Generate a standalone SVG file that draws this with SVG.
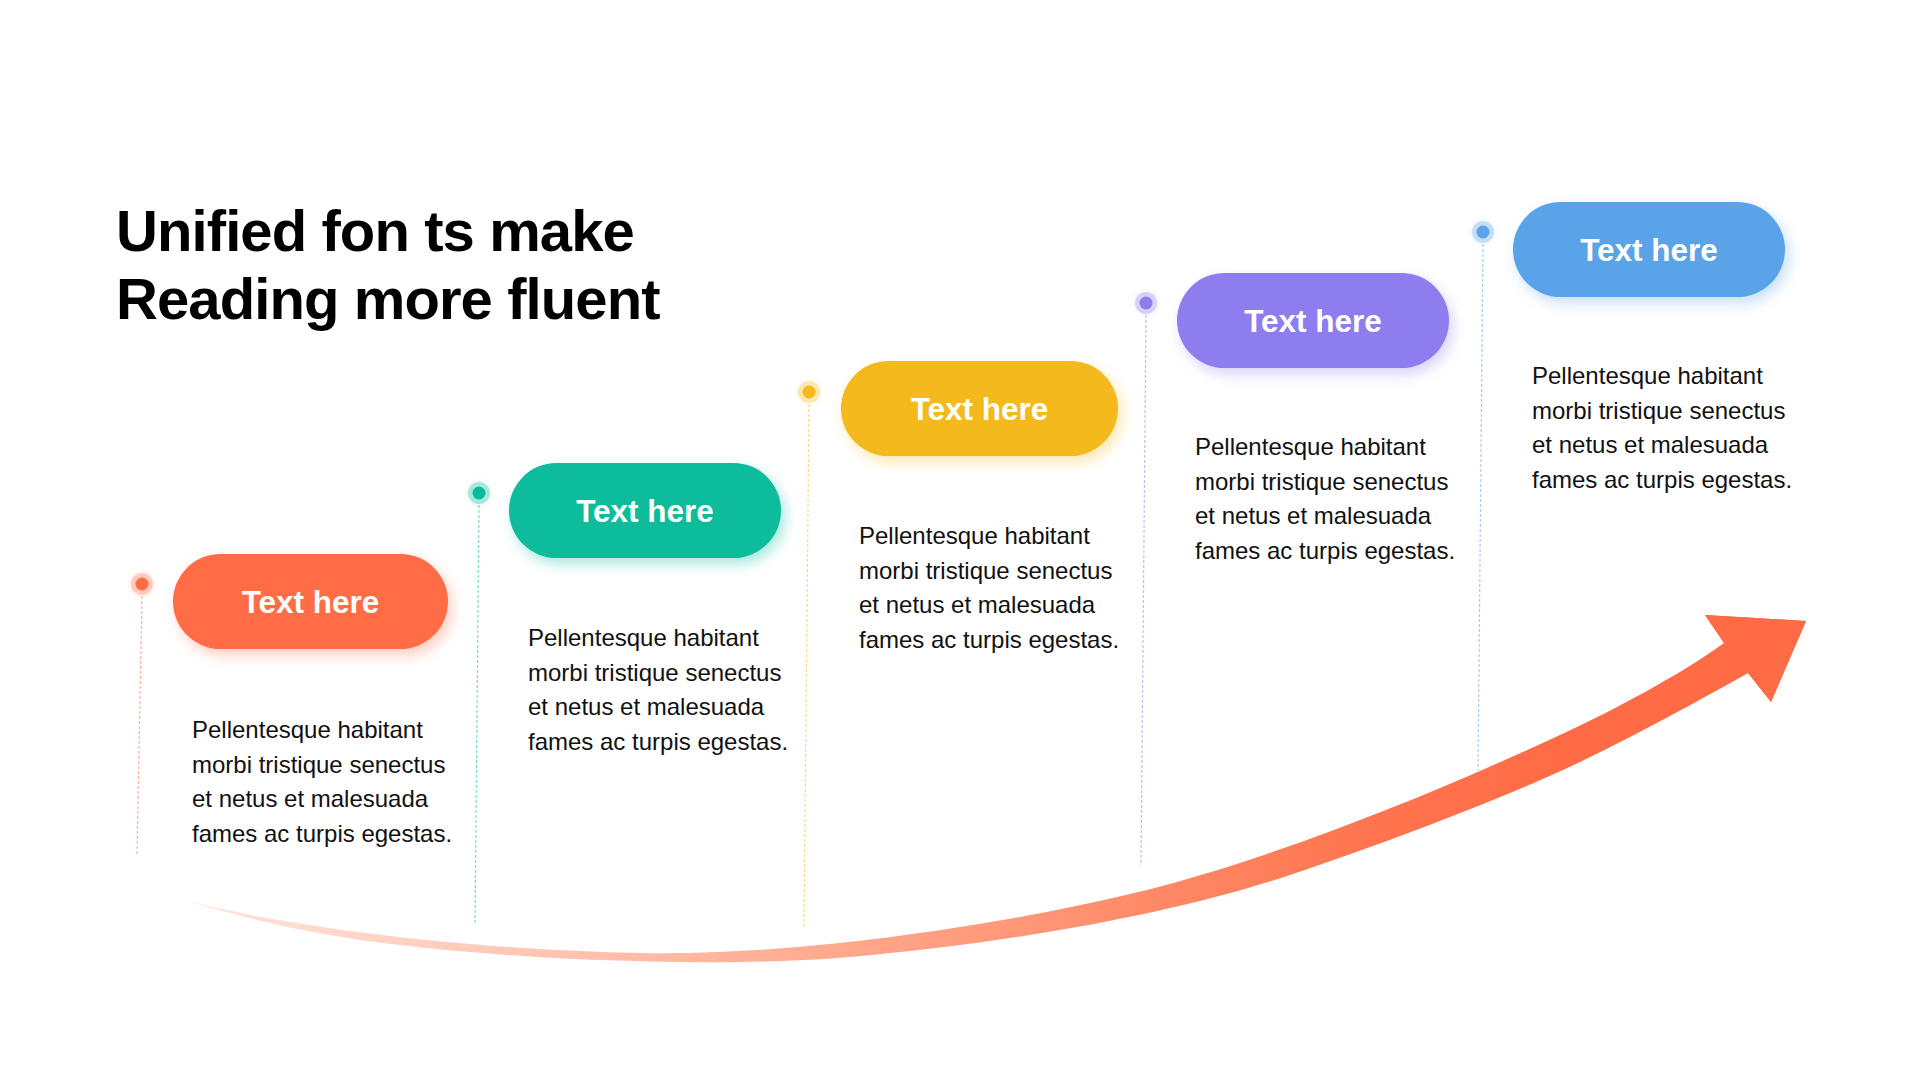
<svg xmlns="http://www.w3.org/2000/svg" width="1920" height="1080" viewBox="0 0 1920 1080">
  <style>
    .title { font-family: "Liberation Sans", Arial, sans-serif; font-weight: bold; font-size: 58px; fill: #000; letter-spacing: -0.9px; }
    .pill-text { font-family: "Liberation Sans", Arial, sans-serif; font-weight: bold; font-size: 31.5px; fill: #fff; text-anchor: middle; }
    .body { font-family: "Liberation Sans", Arial, sans-serif; font-size: 24px; fill: #111; }
    .guide { fill: none; stroke-width: 1.2; stroke-dasharray: 3 2; opacity: 0.55; }
  </style>
  <defs>
    <filter id="glow" x="-30%" y="-50%" width="160%" height="220%">
      <feGaussianBlur in="SourceGraphic" stdDeviation="7" result="b"/>
      <feOffset in="b" dx="4" dy="6" result="o"/>
      <feComponentTransfer in="o" result="t"><feFuncA type="linear" slope="0.35"/></feComponentTransfer>
      <feMerge><feMergeNode in="t"/><feMergeNode in="SourceGraphic"/></feMerge>
    </filter>
    <filter id="dotglow" x="-100%" y="-100%" width="300%" height="300%">
      <feGaussianBlur in="SourceGraphic" stdDeviation="3" result="b"/>
      <feComponentTransfer in="b" result="t"><feFuncA type="linear" slope="0.5"/></feComponentTransfer>
      <feMerge><feMergeNode in="t"/><feMergeNode in="SourceGraphic"/></feMerge>
    </filter>
    <linearGradient id="arrowGrad" gradientUnits="userSpaceOnUse" x1="184" y1="0" x2="1560" y2="0">
      <stop offset="0" stop-color="#FFE6DE"/>
      <stop offset="0.48" stop-color="#FFA88C"/>
      <stop offset="0.85" stop-color="#FF7650"/>
      <stop offset="1" stop-color="#FF6B45"/>
    </linearGradient>
  </defs>

  <rect width="1920" height="1080" fill="#fff"/>

  <g id="title">
    <text class="title" x="116" y="251">Unified fon ts make</text>
    <text class="title" x="116" y="319">Reading more fluent</text>
  </g>

  <g id="connectors">
    <path class="guide" stroke="#FF6C45" d="M142,596 L137,856"/>
    <path class="guide" stroke="#08BC9A" d="M479,505 L475,924"/>
    <path class="guide" stroke="#F4B91B" d="M809,404 L804,928"/>
    <path class="guide" stroke="#8E7DEF" d="M1146,315 L1141,866"/>
    <path class="guide" stroke="#5AA3E8" d="M1483,244 L1478,771"/>
  </g>

  <g id="arrow">
    <path fill="url(#arrowGrad)" d="M184,900 C300,930 480,950 640,953 C800,956 1000,925 1130,894 C1260,863 1420,800 1560,735 C1610,712 1680,675 1724,643 L1705,615 L1806,621 L1771,702 L1748,673 C1700,700 1640,733 1580,762 C1520,791 1400,838 1290,875 C1180,912 1020,942 850,957 C750,966 560,964 400,945 C320,936 250,920 184,900 Z"/>
    <path fill="#FF6B45" d="M1724,643 L1705,615 L1806,621 L1771,702 L1748,673 Z"/>
  </g>

  <g id="node1">
    <circle cx="142" cy="584" r="11" fill="#FF6C45" opacity="0.35" filter="url(#dotglow)"/>
    <circle cx="142" cy="584" r="6.5" fill="#FF6C45"/>
    <rect x="173" y="554" width="275" height="95" rx="47.5" fill="#FF6C45" filter="url(#glow)"/>
    <text class="pill-text" x="310.5" y="613">Text here</text>
    <text class="body" x="192" y="738">
      <tspan x="192">Pellentesque habitant</tspan>
      <tspan x="192" dy="34.5">morbi tristique senectus</tspan>
      <tspan x="192" dy="34.5">et netus et malesuada</tspan>
      <tspan x="192" dy="34.5">fames ac turpis egestas.</tspan>
    </text>
  </g>

  <g id="node2">
    <circle cx="479" cy="493" r="11" fill="#08BC9A" opacity="0.35" filter="url(#dotglow)"/>
    <circle cx="479" cy="493" r="6.5" fill="#08BC9A"/>
    <rect x="509" y="463" width="272" height="95" rx="47.5" fill="#08BC9A" filter="url(#glow)"/>
    <text class="pill-text" x="645" y="522">Text here</text>
    <text class="body" x="528" y="646">
      <tspan x="528">Pellentesque habitant</tspan>
      <tspan x="528" dy="34.5">morbi tristique senectus</tspan>
      <tspan x="528" dy="34.5">et netus et malesuada</tspan>
      <tspan x="528" dy="34.5">fames ac turpis egestas.</tspan>
    </text>
  </g>

  <g id="node3">
    <circle cx="809" cy="392" r="11" fill="#F4B91B" opacity="0.35" filter="url(#dotglow)"/>
    <circle cx="809" cy="392" r="6.5" fill="#F4B91B"/>
    <rect x="841" y="361" width="277" height="95" rx="47.5" fill="#F4B91B" filter="url(#glow)"/>
    <text class="pill-text" x="979.5" y="420">Text here</text>
    <text class="body" x="859" y="544">
      <tspan x="859">Pellentesque habitant</tspan>
      <tspan x="859" dy="34.5">morbi tristique senectus</tspan>
      <tspan x="859" dy="34.5">et netus et malesuada</tspan>
      <tspan x="859" dy="34.5">fames ac turpis egestas.</tspan>
    </text>
  </g>

  <g id="node4">
    <circle cx="1146" cy="303" r="11" fill="#8E7DEF" opacity="0.35" filter="url(#dotglow)"/>
    <circle cx="1146" cy="303" r="6.5" fill="#8E7DEF"/>
    <rect x="1177" y="273" width="272" height="95" rx="47.5" fill="#8E7DEF" filter="url(#glow)"/>
    <text class="pill-text" x="1313" y="332">Text here</text>
    <text class="body" x="1195" y="455">
      <tspan x="1195">Pellentesque habitant</tspan>
      <tspan x="1195" dy="34.5">morbi tristique senectus</tspan>
      <tspan x="1195" dy="34.5">et netus et malesuada</tspan>
      <tspan x="1195" dy="34.5">fames ac turpis egestas.</tspan>
    </text>
  </g>

  <g id="node5">
    <circle cx="1483" cy="232" r="11" fill="#5AA3E8" opacity="0.35" filter="url(#dotglow)"/>
    <circle cx="1483" cy="232" r="6.5" fill="#5AA3E8"/>
    <rect x="1513" y="202" width="272" height="95" rx="47.5" fill="#5AA3E8" filter="url(#glow)"/>
    <text class="pill-text" x="1649" y="261">Text here</text>
    <text class="body" x="1532" y="384">
      <tspan x="1532">Pellentesque habitant</tspan>
      <tspan x="1532" dy="34.5">morbi tristique senectus</tspan>
      <tspan x="1532" dy="34.5">et netus et malesuada</tspan>
      <tspan x="1532" dy="34.5">fames ac turpis egestas.</tspan>
    </text>
  </g>
</svg>
